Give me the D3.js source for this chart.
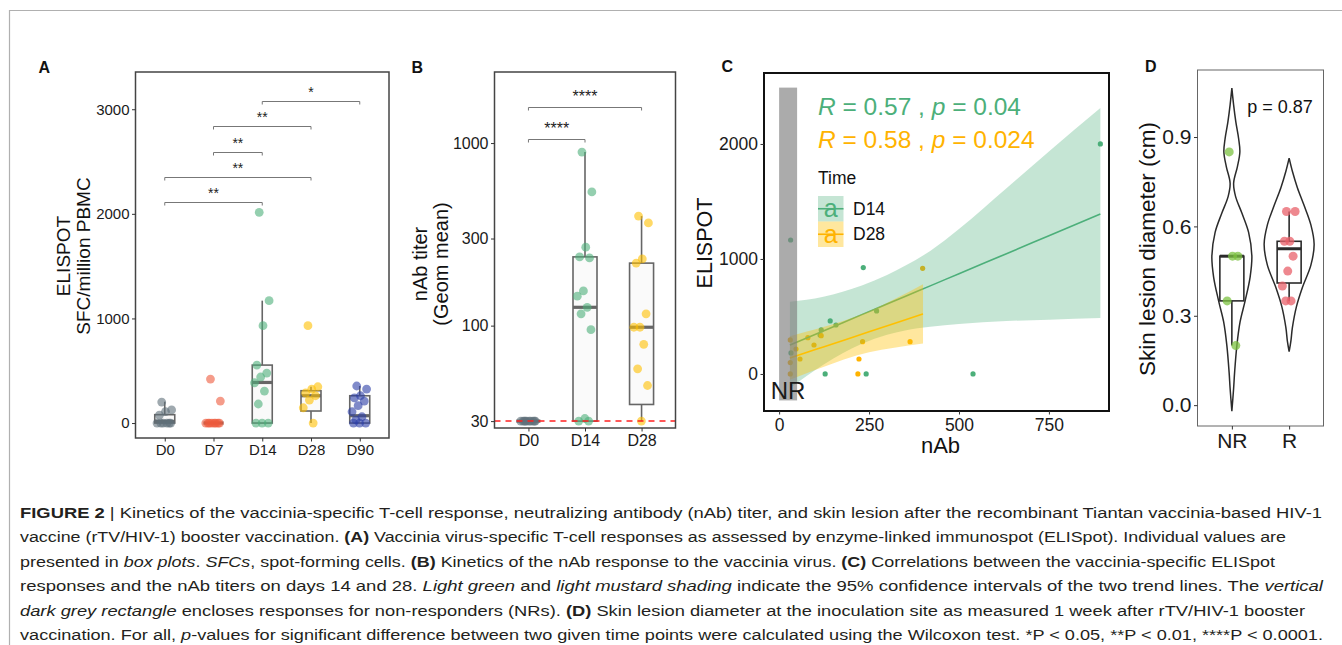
<!DOCTYPE html>
<html>
<head>
<meta charset="utf-8">
<script src="https://cdn.jsdelivr.net/npm/d3@7"></script>
<style>
  body { margin: 0; background: #fff; }
  svg { display: block; font-family: "Liberation Sans", Arial, Helvetica, sans-serif; }
</style>
</head>
<body>
<svg id="fig" width="1342" height="645"></svg>
<script>
// ---- panel A: ELISPOT by time point ----
const catsA = ["D0", "D7", "D14", "D28", "D90"];
const colorsA = ["#5f6f79", "#ee5a3c", "#4caf7a", "#ffbf00", "#2b3ea6"];
const ptsA = [
  [200, 125, 110, 75, 0, 0, 0, 0, 0, 0],
  [420, 210, 0, 0, 0, 0, 0, 0, 0, 0],
  [2014, 1170, 931, 554, 478, 440, 385, 306, 182, 0, 0, 0],
  [931, 347, 325, 287, 261, 220, 146, 0],
  [354, 325, 261, 240, 210, 166, 108, 60, 30, 0, 0, 0]
];
// [lower whisker, q1, median, q3, upper whisker]
const boxA = [
  [0, 0, 15, 80, 204],
  [0, 0, 0, 0, 0],
  [0, 0, 388, 554, 1170],
  [0, 115, 261, 309, 347],
  [0, 0, 70, 261, 354]
];
const bracketsA = [
  ["D0", "D14", 2113, "**"], ["D0", "D28", 2352, "**"], ["D7", "D14", 2591, "**"],
  ["D7", "D28", 2839, "**"], ["D14", "D90", 3078, "*"]
];
const ticksA = [0, 1000, 2000, 3000];

// ---- panel B: nAb titer ----
const catsB = ["D0", "D14", "D28"];
const colorsB = ["#5f6f79", "#4caf7a", "#ffbf00"];
const ptsB = [
  [30, 30, 30, 30, 30, 30, 30, 30, 30, 30],
  [893, 540, 269, 238, 235, 155, 145, 126, 116, 95, 31, 30, 30],
  [398, 365, 232, 220, 116, 98, 98, 79, 58, 47, 30]
];
const boxB = [
  [30, 30, 30, 30, 30],
  [30, 30, 126, 238, 893],
  [30, 37, 98, 220, 398]
];
const bracketsB = [["D0", "D14", 1052, "****"], ["D0", "D28", 1577, "****"]];
const ticksB = [30, 100, 300, 1000];
const cutoffB = 30;

// ---- panel C: ELISPOT vs nAb ----
const d14X = [893, 32, 234, 271, 142, 158, 117, 114, 33, 128, 242, 539];
const d14Y = [2000, 1165, 925, 548, 461, 426, 383, 339, 183, 0, 0, 0];
const d28X = [31, 31, 31, 47, 58, 80, 97, 117, 222, 219, 232, 364, 399];
const d28Y = [296, 99, 0, 217, 130, 316, 252, 333, 130, 0, 281, 281, 919];
const fitD14X = [30, 123, 230, 300, 350, 420, 500, 632, 750, 893];
const fitD14 = [252, 374, 516, 608, 674, 766, 872, 1046, 1202, 1391];
const loD14 = [-124, 80, 262, 340, 378, 410, 435, 460, 472, 487];
const hiD14 = [628, 672, 770, 860, 940, 1070, 1260, 1614, 1935, 2313];
const fitD28X = [30, 80, 123, 180, 250, 320, 400];
const fitD28 = [139, 191, 235, 294, 367, 439, 522];
const loD28 = [-51, 11, 61, 126, 189, 229, 264];
const hiD28 = [329, 371, 409, 462, 545, 649, 780];
const nrBox = [0, 50, -230, 2490]; // nAb range, ELISPOT range
const ticksCx = [0, 250, 500, 750];
const ticksCy = [0, 1000, 2000];
const statsC = [["0.57", "0.04"], ["0.58", "0.024"]];

// ---- panel D: skin lesion ----
const catsD = ["NR", "R"];
const colorsD = ["#7cc242", "#e8606a"];
const ptsD = [
  [0.85, 0.5, 0.5, 0.35, 0.2],
  [0.65, 0.65, 0.55, 0.55, 0.5, 0.45, 0.4, 0.35, 0.35]
];
const boxD = [
  [0.2, 0.35, 0.5, 0.5, 0.5],
  [0.35, 0.41, 0.525, 0.55, 0.65]
];
const violinNRy = [-0.02, 0.056, 0.11, 0.2, 0.28, 0.35, 0.43, 0.5, 0.58, 0.645, 0.7, 0.745, 0.8, 0.85, 0.895, 0.95, 1.008, 1.064];
const violinNRd = [0, 0.07, 0.11, 0.2, 0.33, 0.53, 0.73, 0.8, 0.67, 0.4, 0.15, 0.07, 0.22, 0.32, 0.27, 0.16, 0.07, 0];
const violinRy = [0.18, 0.215, 0.26, 0.33, 0.395, 0.47, 0.54, 0.605, 0.67, 0.73, 0.785, 0.829];
const violinRd = [0, 0.07, 0.13, 0.29, 0.53, 0.87, 1, 0.87, 0.6, 0.33, 0.13, 0];
const ticksD = [0, 0.3, 0.6, 0.9];

const caption = [
  "§FIGURE 2§ | Kinetics of the vaccinia-specific T-cell response, neutralizing antibody (nAb) titer, and skin lesion after the recombinant Tiantan vaccinia-based HIV-1",
  "vaccine (rTV/HIV-1) booster vaccination. §(A)§ Vaccinia virus-specific T-cell responses as assessed by enzyme-linked immunospot (ELISpot). Individual values are",
  "presented in ~box plots~. ~SFCs~, spot-forming cells. §(B)§ Kinetics of the nAb response to the vaccinia virus. §(C)§ Correlations between the vaccinia-specific ELISpot",
  "responses and the nAb titers on days 14 and 28. ~Light green~ and ~light mustard shading~ indicate the 95% confidence intervals of the two trend lines. The ~vertical~",
  "~dark grey rectangle~ encloses responses for non-responders (NRs). §(D)§ Skin lesion diameter at the inoculation site as measured 1 week after rTV/HIV-1 booster",
  "vaccination. For all, ~p~-values for significant difference between two given time points were calculated using the Wilcoxon test. *P < 0.05, **P < 0.01, ****P < 0.0001."
];
const captionEnds = [1322, 1286, 1275, 1323, 1305, 1323];

// ------------------------------------------------------------------
const svg = d3.select("#fig");
const FONT = '"Liberation Sans", Arial, Helvetica, sans-serif';

// outer figure frame (only top and left edges are in view)
svg.append("path").attr("d", "M9.5,645 V10.5 H1342")
  .attr("fill", "none").attr("stroke", "#b0b0b0").attr("stroke-width", 1.2);

function panelLabel(t, x, y) {
  svg.append("text").attr("x", x).attr("y", y).attr("font-size", 16)
    .attr("font-weight", "bold").attr("fill", "#111").text(t);
}
function frame(x0, y0, x1, y1, stroke, sw) {
  svg.append("rect").attr("x", x0).attr("y", y0).attr("width", x1 - x0).attr("height", y1 - y0)
    .attr("fill", "none").attr("stroke", stroke).attr("stroke-width", sw);
}
function styleAxis(ax, fs) {
  ax.select(".domain").remove();
  ax.selectAll("line").attr("stroke", "#333").attr("stroke-width", 1);
  ax.selectAll("text").attr("font-size", fs).attr("fill", "#1a1a1a").attr("font-family", FONT);
}
function yAxis(scale, x0, ticks, fs, fmt) {
  const ax = svg.append("g").attr("transform", `translate(${x0},0)`)
    .call(d3.axisLeft(scale).tickValues(ticks).tickFormat(fmt || d3.format("d")).tickSize(3.5).tickPadding(2.5));
  styleAxis(ax, fs);
}
function xAxis(scale, y1, ticks, fs, pad) {
  const ax = svg.append("g").attr("transform", `translate(0,${y1})`)
    .call(d3.axisBottom(scale).tickValues(ticks).tickSize(3.5).tickPadding(pad));
  styleAxis(ax, fs);
}
function yTitle(lines, cx, cy, fs) {
  const t = svg.append("text").attr("transform", `translate(${cx},${cy}) rotate(-90)`)
    .attr("text-anchor", "middle").attr("font-size", fs).attr("fill", "#111");
  lines.forEach((l, i) => t.append("tspan").attr("x", 0)
    .attr("dy", i === 0 ? (-(lines.length - 1) / 2 * 1.05 + 0.35) + "em" : "1.05em").text(l));
}
const jit = (i) => ((i * 0.618034 + 0.31) % 1) - 0.5;

function boxplot(x, y, cats, stats, hw, stroke, sw, medW, fill) {
  stats.forEach((s, i) => {
    const cx = x(cats[i]);
    const [lo, q1, med, q3, hi] = s;
    const g = svg.append("g").attr("stroke", stroke);
    g.append("line").attr("x1", cx).attr("x2", cx).attr("y1", y(lo)).attr("y2", y(q1)).attr("stroke-width", sw);
    g.append("line").attr("x1", cx).attr("x2", cx).attr("y1", y(q3)).attr("y2", y(hi)).attr("stroke-width", sw);
    g.append("rect").attr("x", cx - hw).attr("width", 2 * hw)
      .attr("y", y(q3)).attr("height", Math.max(0, y(q1) - y(q3)))
      .attr("fill", fill).attr("stroke-width", sw);
    g.append("line").attr("x1", cx - hw).attr("x2", cx + hw).attr("y1", y(med)).attr("y2", y(med))
      .attr("stroke-width", medW);
  });
}
function jitterPoints(x, y, cats, pts, colors, r, spread, op) {
  pts.forEach((vals, i) => {
    svg.append("g").selectAll("circle").data(vals).join("circle")
      .attr("cx", (d, j) => x(cats[i]) + jit(j) * 2 * spread)
      .attr("cy", (d) => y(d)).attr("r", r)
      .attr("fill", colors[i]).attr("fill-opacity", op);
  });
}
function brackets(x, y, list, fs, gap) {
  list.forEach(([a, b, v, lab]) => {
    const yy = Math.round(y(v)) + 0.5;
    svg.append("path")
      .attr("d", `M${x(a)},${yy + 3} V${yy} H${x(b)} V${yy + 3}`)
      .attr("fill", "none").attr("stroke", "#777").attr("stroke-width", 1);
    svg.append("text").attr("x", (x(a) + x(b)) / 2).attr("y", yy - gap)
      .attr("text-anchor", "middle").attr("font-size", fs).attr("fill", "#222").text(lab);
  });
}

// ================= Panel A =================
{
  const x0 = 135.5, x1 = 389, y0 = 72, y1 = 438;
  const x = d3.scalePoint().domain(catsA).range([x0, x1]).padding(0.6);
  const y = d3.scaleLinear().domain([-143, 3356]).range([y1, y0]);
  panelLabel("A", 38.5, 72.5);
  boxplot(x, y, catsA, boxA, 10, "#666", 1.6, 3.2, "#fafafa");
  jitterPoints(x, y, catsA, ptsA, colorsA, 4.4, 8, 0.6);
  brackets(x, y, bracketsA, 14, 5);
  frame(x0, y0, x1, y1, "#444", 1.5);
  yAxis(y, x0, ticksA, 15);
  xAxis(x, y1, catsA, 15, 3);
  yTitle(["ELISPOT", "SFC/million PBMC"], 73, 256, 19);
}

// ================= Panel B =================
{
  const x0 = 494.5, x1 = 675.5, y0 = 72, y1 = 428;
  const x = d3.scalePoint().domain(catsB).range([x0, x1]).padding(0.6);
  const y = d3.scaleLog().domain([27.5, 2450]).range([y1, y0]);
  panelLabel("B", 411.5, 73);
  boxplot(x, y, catsB, boxB, 12, "#666", 1.6, 3.2, "#fafafa");
  jitterPoints(x, y, catsB, ptsB, colorsB, 4.4, 8, 0.6);
  svg.append("line").attr("x1", x0).attr("x2", x1).attr("y1", y(cutoffB)).attr("y2", y(cutoffB))
    .attr("stroke", "#ff2020").attr("stroke-width", 1.5).attr("stroke-dasharray", "6,5");
  brackets(x, y, bracketsB, 16, 6);
  frame(x0, y0, x1, y1, "#444", 1.5);
  yAxis(y, x0, ticksB, 16);
  xAxis(x, y1, catsB, 16, 3);
  yTitle(["nAb titer", "(Geom mean)"], 430, 264, 20);
}

// ================= Panel C =================
{
  const x0 = 764, x1 = 1109, y0 = 73, y1 = 411;
  const x = d3.scaleLinear().domain([-42, 917]).range([x0, x1]);
  const y = d3.scaleLinear().domain([-322, 2617]).range([y1, y0]);
  const green = "#4caf7a", gold = "#ffb300";
  panelLabel("C", 721.5, 72);

  svg.append("g").selectAll("circle").data(d14X).join("circle")
    .attr("cx", (d) => x(d)).attr("cy", (d, i) => y(d14Y[i])).attr("r", 2.6).attr("fill", green);
  svg.append("g").selectAll("circle").data(d28X).join("circle")
    .attr("cx", (d) => x(d)).attr("cy", (d, i) => y(d28Y[i])).attr("r", 2.6).attr("fill", gold);

  const drawSmooth = (xs, fit, lo, hi, col, op) => {
    const idx = d3.range(xs.length);
    svg.append("path").datum(idx)
      .attr("d", d3.area().curve(d3.curveMonotoneX)
        .x((i) => x(xs[i])).y0((i) => y(lo[i])).y1((i) => y(hi[i])))
      .attr("fill", col).attr("fill-opacity", op);
    svg.append("path").datum(idx)
      .attr("d", d3.line().curve(d3.curveMonotoneX).x((i) => x(xs[i])).y((i) => y(fit[i])))
      .attr("fill", "none").attr("stroke", col).attr("stroke-width", 1.6);
  };
  drawSmooth(fitD14X, fitD14, loD14, hiD14, green, 0.32);
  drawSmooth(fitD28X, fitD28, loD28, hiD28, "#ffc000", 0.38);

  svg.append("rect").attr("x", x(nrBox[0])).attr("width", x(nrBox[1]) - x(nrBox[0]))
    .attr("y", y(nrBox[3])).attr("height", y(nrBox[2]) - y(nrBox[3]))
    .attr("fill", "#7f7f7f").attr("fill-opacity", 0.66);
  svg.append("text").attr("x", x(25)).attr("y", 399).attr("text-anchor", "middle")
    .attr("font-size", 24).attr("fill", "#1a1a1a").text("NR");

  // correlation labels
  [green, gold].forEach((c, i) => {
    const t = svg.append("text").attr("x", 818).attr("y", 115 + i * 33)
      .attr("font-size", 24.5).attr("fill", c);
    t.append("tspan").attr("font-style", "italic").text("R");
    t.append("tspan").text(" = " + statsC[i][0] + " , ");
    t.append("tspan").attr("font-style", "italic").text("p");
    t.append("tspan").text(" = " + statsC[i][1]);
  });

  // legend
  svg.append("text").attr("x", 818).attr("y", 184).attr("font-size", 17.5).attr("fill", "#111").text("Time");
  [["D14", green, 0.32], ["D28", "#ffc000", 0.38]].forEach(([lab, c, op], i) => {
    const ky = 196 + i * 25.5;
    svg.append("rect").attr("x", 818).attr("y", ky).attr("width", 25.5).attr("height", 25.5)
      .attr("fill", c).attr("fill-opacity", op);
    svg.append("line").attr("x1", 818).attr("x2", 843.5).attr("y1", ky + 12.75).attr("y2", ky + 12.75)
      .attr("stroke", i ? gold : green).attr("stroke-width", 1.6);
    svg.append("text").attr("x", 830.75).attr("y", ky + 21).attr("text-anchor", "middle")
      .attr("font-size", 25).attr("fill", i ? gold : green).text("a");
    svg.append("text").attr("x", 853).attr("y", ky + 18.5).attr("font-size", 17.5)
      .attr("fill", "#111").text(lab);
  });

  frame(x0, y0, x1, y1, "#111", 2);
  yAxis(y, x0, ticksCy, 17.5);
  xAxis(x, y1, ticksCx, 17.5, 4);
  yTitle(["ELISPOT"], 704, 243, 21.5);
  svg.append("text").attr("x", (x0 + x1) / 2 + 4).attr("y", 453).attr("text-anchor", "middle")
    .attr("font-size", 22).attr("fill", "#111").text("nAb");
}

// ================= Panel D =================
{
  const x0 = 1197.5, x1 = 1323.5, y0 = 70, y1 = 426;
  const x = d3.scalePoint().domain(catsD).range([x0, x1]).padding(0.6);
  const y = d3.scaleLinear().domain([-0.07, 1.125]).range([y1, y0]);
  const w = d3.scaleLinear().domain([0, 1]).range([0, 25]);
  panelLabel("D", 1145, 72);

  [[violinNRy, violinNRd], [violinRy, violinRd]].forEach(([vy, vd], i) => {
    const cx = x(catsD[i]);
    svg.append("path").datum(d3.range(vy.length))
      .attr("d", d3.area().curve(d3.curveCatmullRom)
        .y((k) => y(vy[k])).x0((k) => cx - w(vd[k])).x1((k) => cx + w(vd[k])))
      .attr("fill", "#fff").attr("stroke", "#2b2b2b").attr("stroke-width", 1.5);
  });
  boxplot(x, y, catsD, boxD, 12, "#2b2b2b", 1.6, 3, "#fff");
  jitterPoints(x, y, catsD, ptsD, colorsD, 4.5, 7, 0.75);

  svg.append("text").attr("x", 1280).attr("y", 113).attr("text-anchor", "middle")
    .attr("font-size", 18).attr("fill", "#111").text("p = 0.87");

  frame(x0, y0, x1, y1, "#666", 1);
  yAxis(y, x0, ticksD, 21, d3.format(".1f"));
  xAxis(x, y1, catsD, 21, 4);
  yTitle(["Skin lesion diameter (cm)"], 1147, 249, 22.5);
}

// ================= Caption =================
caption.forEach((line, li) => {
  const t = svg.append("text").attr("x", 20).attr("y", 518 + li * 24.4)
    .attr("font-size", 15.5).attr("fill", "#231f20")
    .attr("textLength", captionEnds[li] - 20).attr("lengthAdjust", "spacingAndGlyphs");
  line.split(/(§[^§]+§|~[^~]+~)/).forEach((part) => {
    if (!part) return;
    const s = t.append("tspan");
    if (part[0] === "§") s.attr("font-weight", "bold").text(part.slice(1, -1));
    else if (part[0] === "~") s.attr("font-style", "italic").text(part.slice(1, -1));
    else s.text(part);
  });
});
</script>
</body>
</html>
